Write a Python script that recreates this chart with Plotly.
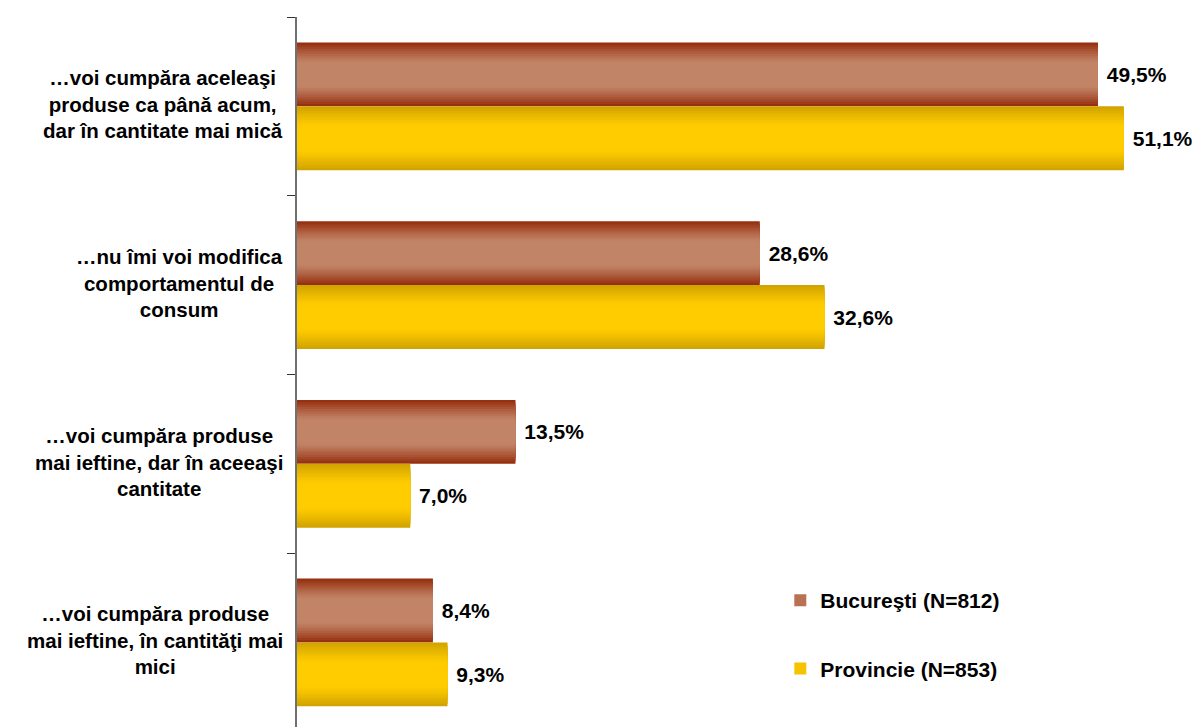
import plotly.graph_objects as go

categories = [
    "…voi cumpăra aceleaşi<br>produse ca până acum,<br>dar în cantitate mai mică",
    "…nu îmi voi modifica<br>comportamentul de<br>consum",
    "…voi cumpăra produse<br>mai ieftine, dar în aceeaşi<br>cantitate",
    "…voi cumpăra produse<br>mai ieftine, în cantităţi mai<br>mici",
]
cat_keys = ["c1", "c2", "c3", "c4"]
series_names = ["Bucureşti (N=812)", "Provincie (N=853)"]
bucuresti = [49.5, 28.6, 13.5, 8.4]
provincie = [51.1, 32.6, 7.0, 9.3]

FONT = "Liberation Sans, Arial, sans-serif"
BAR_W = 0.3575  # category units per bar


def hex2rgb(h):
    h = h.lstrip("#")
    return tuple(int(h[i:i + 2], 16) for i in (0, 2, 4))


def mix(c1, c2, t):
    a, b = hex2rgb(c1), hex2rgb(c2)
    return "rgb(%d,%d,%d)" % tuple(round(a[i] + (b[i] - a[i]) * t) for i in range(3))


def fmt(v):
    return " <b>" + ("%.1f" % v).replace(".", ",") + "%</b>"


fig = go.Figure()

specs = [
    (series_names[0], bucuresti, "#963010", "#C28466", -BAR_W),
    (series_names[1], provincie, "#D2A400", "#FFCC00", 0.0),
]
N = 14
for name, vals, edge, center, off in specs:
    for k in range(N):
        wfrac = 1 - k / N
        d = wfrac
        if d < 0.4:
            t = 0.0
        else:
            t = ((d - 0.4) / 0.6) ** 1.2
        col = mix(center, edge, t)
        w = BAR_W * wfrac
        o = off + (BAR_W - w) / 2
        outer = k == 0
        fig.add_trace(go.Bar(
            y=cat_keys, x=vals, orientation="h",
            name="<b>" + name + "</b>", legendgroup=name,
            showlegend=(k == 6),
            marker=dict(color=col, line=dict(width=0)),
            width=w, offset=o,
            text=[fmt(v) for v in vals] if outer else None,
            textposition="outside" if outer else "none",
            textfont=dict(family=FONT, size=21, color="black"),
            cliponaxis=False,
            hoverinfo="skip" if not outer else None,
        ))

for key, lab in zip(cat_keys, categories):
    fig.add_annotation(
        x=-0.0133, xref="paper", y=key, yref="y", yshift=2,
        text="<b>" + lab + "</b>", showarrow=False,
        align="center", xanchor="right", yanchor="middle",
        font=dict(family=FONT, size=20.5, color="black"),
    )

fig.update_layout(
    width=1197, height=727,
    margin=dict(l=297, r=0, t=17, b=0),
    paper_bgcolor="white", plot_bgcolor="white",
    barmode="overlay",
    showlegend=True,
    legend=dict(
        x=0.537, y=0.207, xanchor="left", yanchor="top",
        font=dict(family=FONT, size=21, color="black"),
        tracegroupgap=38, bgcolor="rgba(0,0,0,0)",
        itemclick=False,
    ),
    font=dict(family=FONT, color="black"),
)
fig.update_xaxes(range=[0, 55.62], visible=False, showgrid=False, zeroline=False)
fig.update_yaxes(
    type="category", categoryorder="array", categoryarray=cat_keys,
    range=[3.473, -0.5], showticklabels=False, showgrid=False, zeroline=False,
    showline=True, linecolor="#707070", linewidth=1.5,
    ticks="outside", ticklen=8, tickcolor="#333333", tickwidth=1,
    tickson="boundaries",
)

fig.write_html("out.html")
